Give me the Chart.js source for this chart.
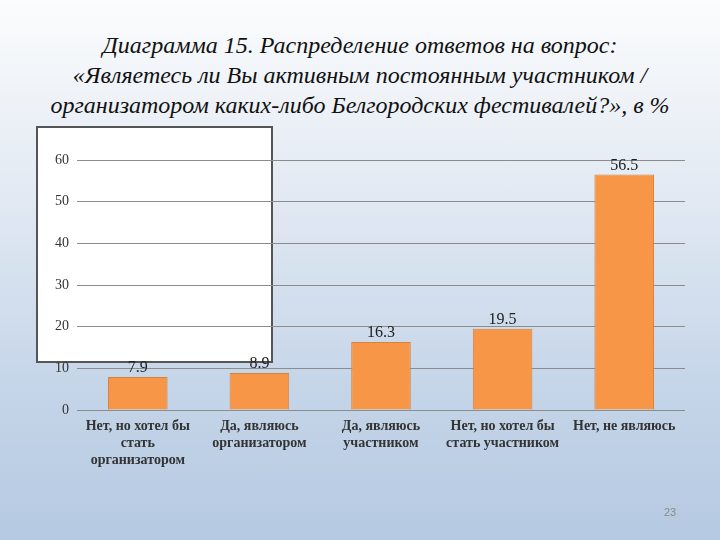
<!DOCTYPE html>
<html>
<head>
<meta charset="utf-8">
<script src="https://cdn.jsdelivr.net/npm/chart.js@4"></script>
<style>
  html, body { margin: 0; padding: 0; }
  body {
    width: 720px; height: 540px; position: relative; overflow: hidden;
    background: linear-gradient(#fbfcfd 0%, #e3eaf3 35%, #c6d6e9 70%, #b5c9e2 100%);
  }
  #title {
    position: absolute; left: 0; top: 30px; width: 720px; text-align: center;
    font-family: "Liberation Serif", serif; font-style: italic; font-size: 24px;
    line-height: 30px; color: #111;
  }
  #box {
    position: absolute; left: 36px; top: 126px; width: 233px; height: 233px;
    background: #fff; border: 2px solid #555;
  }
  #chartWrap { position: absolute; left: 0; top: 0; width: 720px; height: 540px; }
  #num {
    position: absolute; left: 664px; top: 506px; font-family: "Liberation Sans", sans-serif;
    font-size: 11px; color: #8a8a8a;
  }
</style>
</head>
<body>
<div id="title">Диаграмма 15. Распределение ответов на вопрос:<br>«Являетесь ли Вы активным постоянным участником /<br>организатором каких-либо Белгородских фестивалей?», в %</div>
<div id="box"></div>
<div id="chartWrap"><canvas id="myChart" width="720" height="540"></canvas></div>
<div id="num">23</div>
<script>
const ctx = document.getElementById('myChart');

const categories = [
  ['Нет, но хотел бы', 'стать', 'организатором'],
  ['Да, являюсь', 'организатором'],
  ['Да, являюсь', 'участником'],
  ['Нет, но хотел бы', 'стать участником'],
  'Нет, не являюсь'
];
const values = [7.9, 8.9, 16.3, 19.5, 56.5];
const yTicks = [0, 10, 20, 30, 40, 50, 60];

// подписи значений над столбцами
const barLabels = {
  id: 'barLabels',
  afterDatasetsDraw(chart) {
    const c = chart.ctx;
    const meta = chart.getDatasetMeta(0);
    c.save();
    c.font = '16px "Liberation Serif", serif';
    c.fillStyle = '#222';
    c.textAlign = 'center';
    c.textBaseline = 'bottom';
    meta.data.forEach(function(bar, i) {
      c.fillText(values[i].toFixed(1), bar.x, bar.y - 1);
    });
    c.restore();
  }
};

new Chart(ctx, {
  type: 'bar',
  data: {
    labels: categories,
    datasets: [{
      data: values,
      backgroundColor: '#f79646',
      borderColor: '#d9823e',
      borderWidth: 1,
      categoryPercentage: 1,
      barPercentage: 0.49
    }]
  },
  options: {
    responsive: false,
    animation: false,
    layout: { padding: { left: 37, right: 35, top: 160, bottom: 40 } },
    plugins: { legend: { display: false }, tooltip: { enabled: false } },
    scales: {
      y: {
        min: 0, max: 60,
        afterFit: function(s) { s.width = 40; },
        afterBuildTicks: function(s) { s.ticks = yTicks.map(v => ({ value: v })); },
        grid: { color: '#8c8c8c', lineWidth: 1, drawTicks: false },
        border: { display: false },
        ticks: { padding: 8, color: '#333', font: { family: '"Liberation Serif", serif', size: 14 } }
      },
      x: {
        afterFit: function(s) { s.height = 90; },
        grid: { display: false },
        border: { display: false },
        ticks: {
          padding: 0, color: '#333', maxRotation: 0, autoSkip: false,
          font: { family: '"Liberation Serif", serif', size: 14, weight: 'bold', lineHeight: 1.2 }
        }
      }
    }
  },
  plugins: [barLabels]
});
</script>
</body>
</html>
